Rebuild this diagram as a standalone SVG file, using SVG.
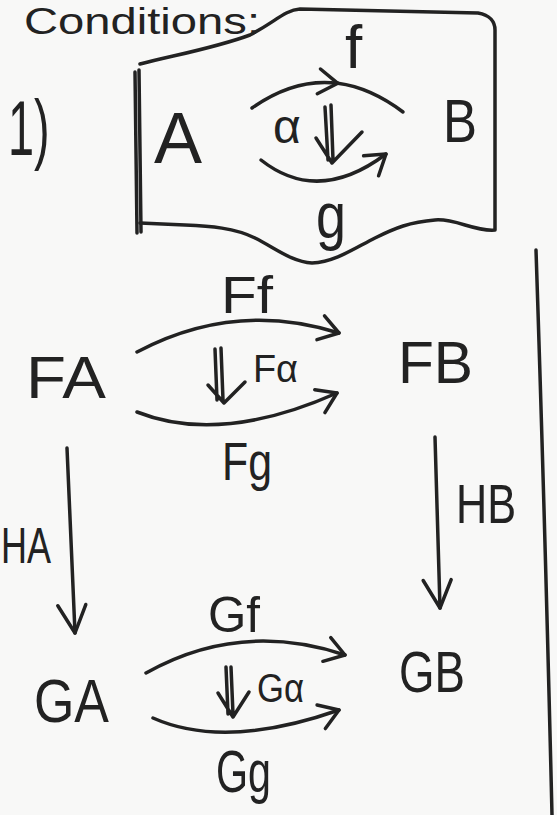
<svg xmlns="http://www.w3.org/2000/svg" width="557" height="815" viewBox="0 0 557 815">
  <defs>
    <style>
      .ink { fill: none; stroke: #222; stroke-width: 3.5; stroke-linecap: round; stroke-linejoin: round; }
      .lbl { fill: #222; font-family: "Liberation Sans", "DejaVu Sans", sans-serif; }
      .arr { marker-end: url(#head); }
      .varr { marker-end: url(#head-lg); }
    </style>
    <marker id="head" markerUnits="userSpaceOnUse" markerWidth="40" markerHeight="40" viewBox="-30 -20 40 40" refX="0" refY="0" orient="auto" overflow="visible">
      <path d="M -19 -12 L 0 0 L -19 13" fill="none" stroke="#222" stroke-width="3.5" stroke-linecap="round" stroke-linejoin="round"/>
    </marker>
    <marker id="head-lg" markerUnits="userSpaceOnUse" markerWidth="50" markerHeight="50" viewBox="-40 -25 50 50" refX="0" refY="0" orient="auto" overflow="visible">
      <path d="M -28 -12 L 0 0 L -28 16" fill="none" stroke="#222" stroke-width="3.5" stroke-linecap="round" stroke-linejoin="round"/>
    </marker>
  </defs>

  <rect width="557" height="815" fill="#f8f8f7"/>

  <!-- heading -->
  <g id="heading">
    <text class="lbl" x="24" y="34" font-size="36" textLength="236" lengthAdjust="spacingAndGlyphs">Conditions:</text>
  </g>
  <g id="item-number">
    <text class="lbl" transform="translate(8,155) scale(0.6,1)" font-size="78">1)</text>
  </g>

  <!-- framed cell: alpha between f and g -->
  <g id="frame">
    <path class="ink" d="M 140 64 C 175 55, 215 48, 250 35 C 275 22, 285 10, 300 9 L 478 13 C 490 15, 495 22, 495 30 L 495 230 C 475 232, 455 218, 435 220 C 410 222, 395 228, 375 238 C 355 248, 335 262, 312 263 C 292 262, 275 248, 255 238 C 235 228, 210 226, 185 225 L 140 223"/>
    <path class="ink" d="M 135 72 L 137 233 M 139 70 L 141 232" stroke-width="3"/>
  </g>

  <g id="node-A"><text class="lbl" x="154" y="163" font-size="72">A</text></g>
  <g id="node-B"><text class="lbl" x="443" y="142" font-size="62" textLength="34" lengthAdjust="spacingAndGlyphs">B</text></g>
  <g id="node-FA"><text class="lbl" x="26" y="398" font-size="60" textLength="80" lengthAdjust="spacingAndGlyphs">FA</text></g>
  <g id="node-FB"><text class="lbl" x="398" y="383" font-size="60" textLength="75" lengthAdjust="spacingAndGlyphs">FB</text></g>
  <g id="node-GA"><text class="lbl" x="34" y="722" font-size="62" textLength="75" lengthAdjust="spacingAndGlyphs">GA</text></g>
  <g id="node-GB"><text class="lbl" x="399" y="692" font-size="58" textLength="66" lengthAdjust="spacingAndGlyphs">GB</text></g>

  <!-- connector labels -->
  <g id="labels">
    <text class="lbl" x="345" y="68" font-size="62">f</text>
    <text class="lbl" x="316" y="238" font-size="64" textLength="30" lengthAdjust="spacingAndGlyphs">g</text>
    <text class="lbl" x="273" y="143" font-size="48">α</text>
    <text class="lbl" x="221" y="313" font-size="52" textLength="52" lengthAdjust="spacingAndGlyphs">Ff</text>
    <text class="lbl" x="253" y="382" font-size="38" textLength="45" lengthAdjust="spacingAndGlyphs">Fα</text>
    <text class="lbl" x="222" y="480" font-size="53" textLength="50" lengthAdjust="spacingAndGlyphs">Fg</text>
    <text class="lbl" x="1" y="563" font-size="50" textLength="50" lengthAdjust="spacingAndGlyphs">HA</text>
    <text class="lbl" x="456" y="523" font-size="56" textLength="60" lengthAdjust="spacingAndGlyphs">HB</text>
    <text class="lbl" x="208" y="632" font-size="50" textLength="52" lengthAdjust="spacingAndGlyphs">Gf</text>
    <text class="lbl" x="257" y="702" font-size="40" textLength="47" lengthAdjust="spacingAndGlyphs">Gα</text>
    <text class="lbl" x="216" y="792" font-size="60" textLength="55" lengthAdjust="spacingAndGlyphs">Gg</text>
  </g>

  <g id="connectors">
    <!-- f : A to B, head drawn mid-arc -->
    <path class="ink arr" d="M 252 108 Q 294.8 77.8 337.8 83.3"/>
    <path class="ink" d="M 337.8 83.3 Q 370.3 87.5 403 112"/>
    <!-- g : A to B -->
    <path class="ink arr" d="M 261 160 Q 318 205 386 154"/>
    <!-- alpha : f => g -->
    <path class="ink" d="M 325 107 L 328 160 M 331 105 L 333 160 M 316 138 L 332 163 L 362 132"/>

    <!-- Ff, Fg : FA to FB -->
    <path class="ink arr" d="M 137 352 Q 235 300 339 333"/>
    <path class="ink arr" d="M 137 412 Q 220 445 337 393"/>
    <!-- F alpha -->
    <path class="ink" d="M 215 349 L 217 400 M 221 348 L 223 400 M 208 385 L 224 403 L 245 382"/>

    <!-- HA, HB -->
    <path class="ink varr" d="M 67 448 L 75 633"/>
    <path class="ink varr" d="M 435 437 L 440 608"/>

    <!-- Gf, Gg : GA to GB -->
    <path class="ink arr" d="M 146 673 Q 240 620 345 655"/>
    <path class="ink arr" d="M 153 718 Q 225 750 339 710"/>
    <!-- G alpha -->
    <path class="ink" d="M 226 667 L 228 714 M 231 667 L 233 714 M 218 693 L 233 717 L 249 692"/>

    <!-- bracket on the right -->
    <path class="ink" d="M 536 250 Q 545 520 552 815"/>
  </g>
</svg>
